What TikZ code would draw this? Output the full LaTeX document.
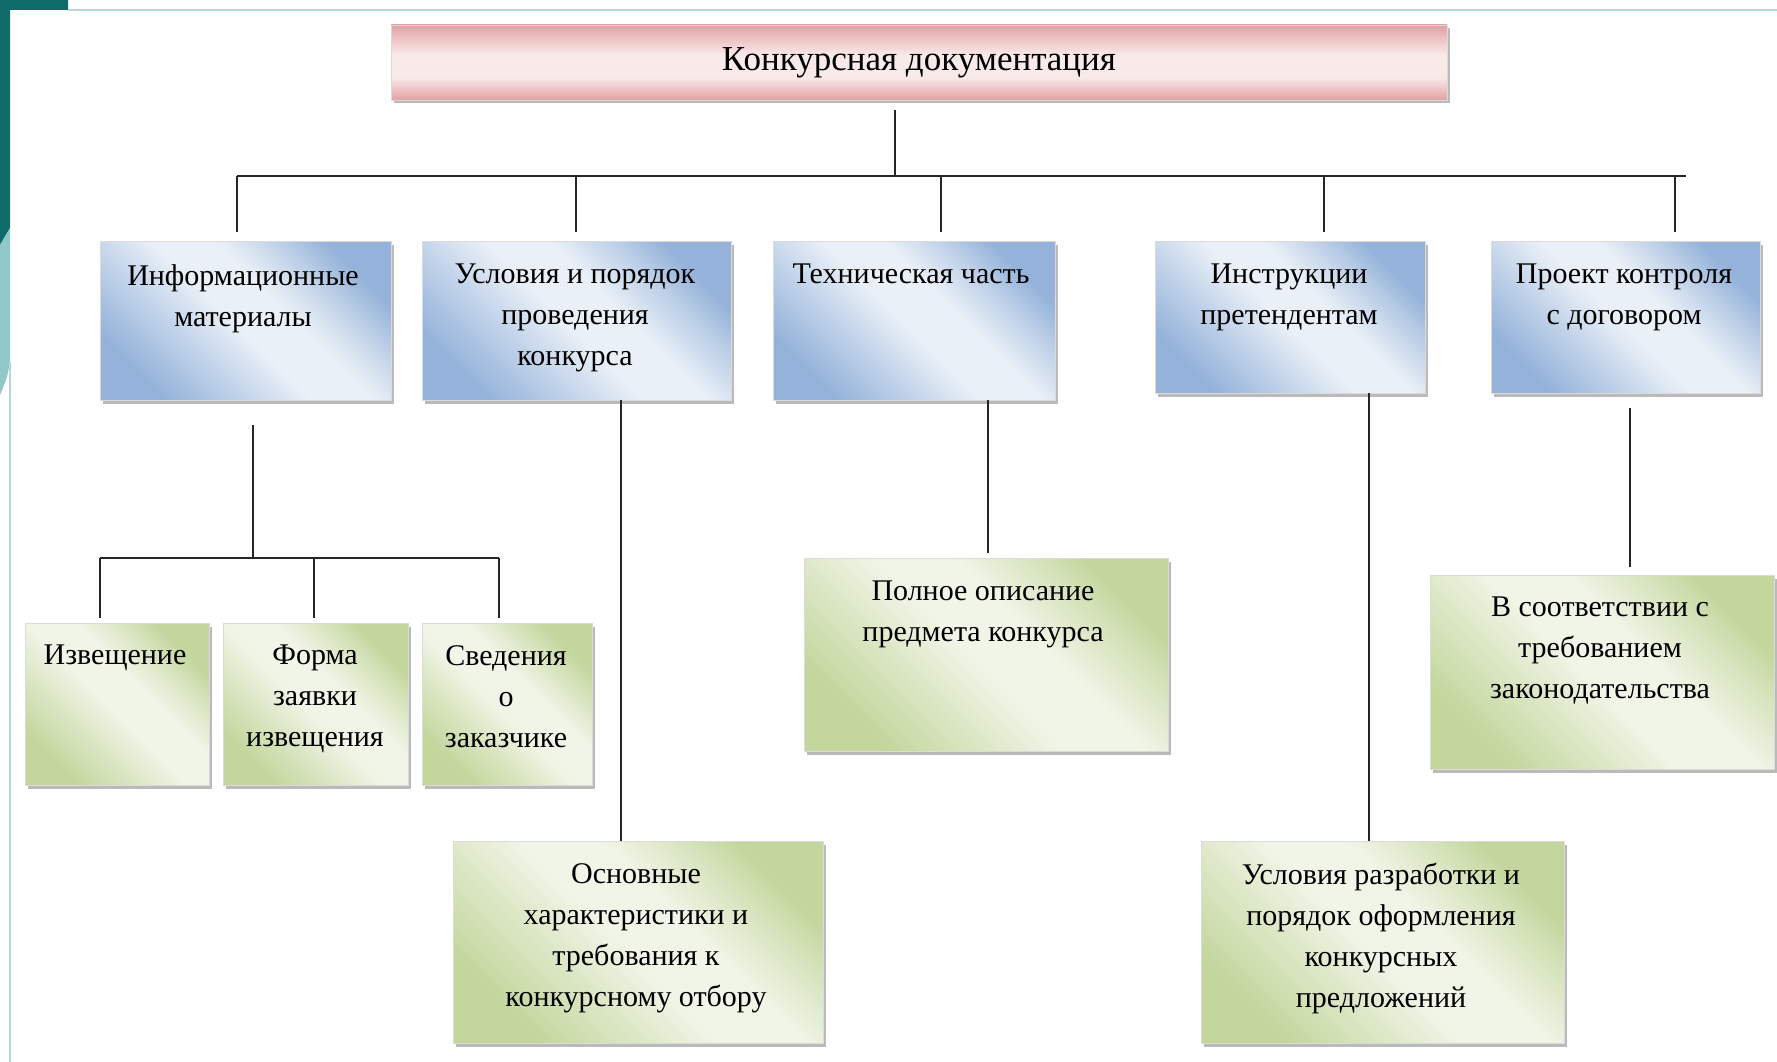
\documentclass[tikz,border=0pt]{standalone}
\usepackage{fontspec}
\setmainfont{Liberation Serif}
\usetikzlibrary{shadows}

\definecolor{framedark}{HTML}{0F6C6A}
\definecolor{framelight}{HTML}{8FC8C6}
\definecolor{frameline}{HTML}{B4D9D8}
\definecolor{pinkedge}{HTML}{E3A0A3}
\definecolor{pinklight}{HTML}{F9EAEA}
\definecolor{blueedge}{HTML}{95B3DA}
\definecolor{bluelight}{HTML}{EAF0F7}
\definecolor{greenedge}{HTML}{C3D69C}
\definecolor{greenlight}{HTML}{F1F5E8}
\definecolor{wire}{HTML}{262626}

% soft diagonal fills with a wide light band through the middle
\pgfdeclarehorizontalshading{bluesoft}{100bp}{color(0bp)=(blueedge); color(25bp)=(blueedge);
  color(38bp)=(blueedge!45!bluelight); color(48bp)=(bluelight); color(58bp)=(bluelight);
  color(68bp)=(blueedge!55!bluelight); color(75bp)=(blueedge); color(100bp)=(blueedge)}
\pgfdeclarehorizontalshading{greensoft}{100bp}{color(0bp)=(greenedge); color(25bp)=(greenedge);
  color(38bp)=(greenedge!45!greenlight); color(48bp)=(greenlight); color(58bp)=(greenlight);
  color(68bp)=(greenedge!55!greenlight); color(75bp)=(greenedge); color(100bp)=(greenedge)}
\pgfdeclareverticalshading{pinksoft}{100bp}{color(0bp)=(pinkedge); color(25bp)=(pinkedge);
  color(40bp)=(pinklight); color(55bp)=(pinklight); color(75bp)=(pinkedge); color(100bp)=(pinkedge)}

\begin{document}
\begin{tikzpicture}[x=1pt,y=-1pt,
  boxbase/.style={rectangle, inner sep=0pt, outer sep=0pt, anchor=north west,
    draw=black!14, line width=0.8pt,
    drop shadow={shadow xshift=2.5pt, shadow yshift=-3.5pt, opacity=0.45, fill=black!60}},
  headbox/.style={boxbase, shading=pinksoft},
  bluebox/.style={boxbase, shading=bluesoft, shading angle=45},
  greenbox/.style={boxbase, shading=greensoft, shading angle=45},
  lbl/.style={inner sep=0pt, align=center, anchor=north, font=\fontsize{30}{41}\selectfont},
  conn/.style={draw=wire, line width=2.8pt}]

\useasboundingbox (0,0) rectangle (1777,1062);
\fill[white] (0,0) rectangle (1777,1062);

% slide frame
\fill[framedark] (0,0) -- (68,0) -- (68,10) -- (10,10) -- (10,228) -- (0,245) -- cycle;
\fill[framelight] (0,245) -- (10,228) -- (10,362) .. controls (7,378) .. (0,395) -- cycle;
\draw[frameline, line width=2pt] (68,10) -- (1777,10);
\draw[frameline, line width=1.5pt] (10,362) -- (10,1062);

% title
\node[headbox, minimum width=1056pt, minimum height=75pt] (top) at (391,25) {};
\node[lbl, anchor=center, font=\fontsize{35}{41}\selectfont] (topt) at (919,63) {Конкурсная документация};

% first level
\node[bluebox, minimum width=291pt, minimum height=159pt] (b1) at (100,241) {};
\node[bluebox, minimum width=309pt, minimum height=159pt] (b2) at (422,241) {};
\node[bluebox, minimum width=282pt, minimum height=159pt] (b3) at (773,241) {};
\node[bluebox, minimum width=270pt, minimum height=152pt] (b4) at (1155,241) {};
\node[bluebox, minimum width=269pt, minimum height=152pt] (b5) at (1491,241) {};

\node[lbl] (b1t) at (243,264) {Информационные\\материалы};
\node[lbl] (b2t) at (575,264) {Условия и порядок\\проведения\\конкурса};
\node[lbl] (b3t) at (911,264) {Техническая часть};
\node[lbl] (b4t) at (1289,264) {Инструкции\\претендентам};
\node[lbl] (b5t) at (1624,264) {Проект контроля\\с договором};

% second level
\node[greenbox, minimum width=184pt, minimum height=162pt] (g1) at (25,623) {};
\node[greenbox, minimum width=185pt, minimum height=162pt] (g2) at (223,623) {};
\node[greenbox, minimum width=170pt, minimum height=162pt] (g3) at (422,623) {};
\node[greenbox, minimum width=370pt, minimum height=202pt] (g4) at (453,841) {};
\node[greenbox, minimum width=364pt, minimum height=193pt] (g5) at (804,558) {};
\node[greenbox, minimum width=363pt, minimum height=202pt] (g6) at (1201,841) {};
\node[greenbox, minimum width=344pt, minimum height=194pt] (g7) at (1430,575) {};

\node[lbl] (g1t) at (115,645) {Извещение};
\node[lbl] (g2t) at (315,645) {Форма\\заявки\\извещения};
\node[lbl] (g3t) at (506,645) {Сведения\\о\\заказчике};
\node[lbl] (g4t) at (636,863) {Основные\\характеристики и\\требования к\\конкурсному отбору};
\node[lbl] (g5t) at (983,581) {Полное описание\\предмета конкурса};
\node[lbl] (g6t) at (1381,863) {Условия разработки и\\порядок оформления\\конкурсных\\предложений};
\node[lbl] (g7t) at (1600,597) {В соответствии с\\требованием\\законодательства};

% main bus
\coordinate (hubT) at (895,110);
\coordinate (hub) at (895,176);
\coordinate (d1) at (237,176);
\coordinate (d2) at (576,176);
\coordinate (d3) at (941,176);
\coordinate (d4) at (1324,176);
\coordinate (d5) at (1686,176);
\draw[conn] (hubT) -- (hub);
\draw[conn] (d1) -- (d5);
\draw[conn, shorten >=9pt] (d1) -- (d1 |- b1.north);
\draw[conn, shorten >=9pt] (d2) -- (d2 |- b2.north);
\draw[conn, shorten >=9pt] (d3) -- (d3 |- b3.north);
\draw[conn, shorten >=9pt] (d4) -- (d4 |- b4.north);
\draw[conn, shorten >=9pt] ([xshift=-11pt]d5) -- ([xshift=-11pt]d5 |- b5.north);

% branch under the information materials
\coordinate (j1) at (253,558);
\coordinate (k1) at (100,558);
\coordinate (k2) at (314,558);
\coordinate (k3) at (499,558);
\draw[conn, shorten <=25pt] (b1.south -| j1) -- (j1);
\draw[conn] (k1) -- (k3);
\draw[conn, shorten >=5pt] (k1) -- (k1 |- g1.north);
\draw[conn, shorten >=5pt] (k2) -- (k2 |- g2.north);
\draw[conn, shorten >=5pt] (k3) -- (k3 |- g3.north);

% single branches
\coordinate (c2) at (621,400);
\coordinate (c3) at (988,400);
\coordinate (c4) at (1369,393);
\coordinate (c5) at (1630,393);
\draw[conn] (c2) -- (c2 |- g4.north);
\draw[conn, shorten >=5pt] (c3) -- (c3 |- g5.north);
\draw[conn] (c4) -- (c4 |- g6.north);
\draw[conn, shorten <=15pt, shorten >=8pt] (c5) -- (c5 |- g7.north);

\end{tikzpicture}
\end{document}
